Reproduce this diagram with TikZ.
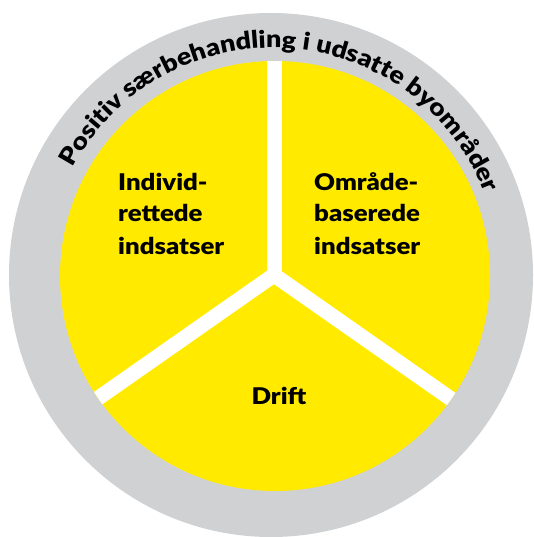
\documentclass[tikz,border=0pt]{standalone}
\usepackage{fontspec}
\setmainfont{Lato}
\newfontfamily\gill{Lato Black}[FakeStretch=1.12]
\usetikzlibrary{decorations.text}
\definecolor{ringgray}{RGB}{208,209,211}
\definecolor{sunyellow}{RGB}{255,234,0}
\tikzset{
  label/.style={font=\gill\fontsize{23}{32}\selectfont, text=black, inner sep=0pt, align=left},
  gapline/.style={draw=white, line width=15pt}
}
\begin{document}
\begin{tikzpicture}[x=1pt,y=1pt]
\useasboundingbox (0,0) rectangle (534,-537);
\coordinate (G) at (271,-275);
\coordinate (Y) at (275,-276);
\coordinate (J) at (274,-275);
\fill[ringgray] (G) circle[radius=262];
\fill[sunyellow] (Y) circle[radius=215];
\begin{scope}
  \clip (Y) circle[radius=215];
  \draw[gapline] (J) -- ++(90:300) coordinate (up);
  \draw[gapline] (J) -- ++(215:300) coordinate (dl);
  \draw[gapline] (J) -- ++(325:300) coordinate (dr);
\end{scope}
\path[decorate, decoration={text along path, text align=center,
  text={|\gill\fontsize{24}{24}\selectfont|Positiv særbehandling i udsatte byområder}}]
  (273,-275) ++(170:227) arc[start angle=170, end angle=3, radius=227];
\node[label, anchor=base west] (ind) at (118,-254) {Individ-\\rettede\\indsatser};
\node[label, anchor=base west] (omr) at (314,-254) {Område-\\baserede\\indsatser};
\node[label, anchor=base] (drift) at (279,-404) {Drift};
\end{tikzpicture}
\end{document}
